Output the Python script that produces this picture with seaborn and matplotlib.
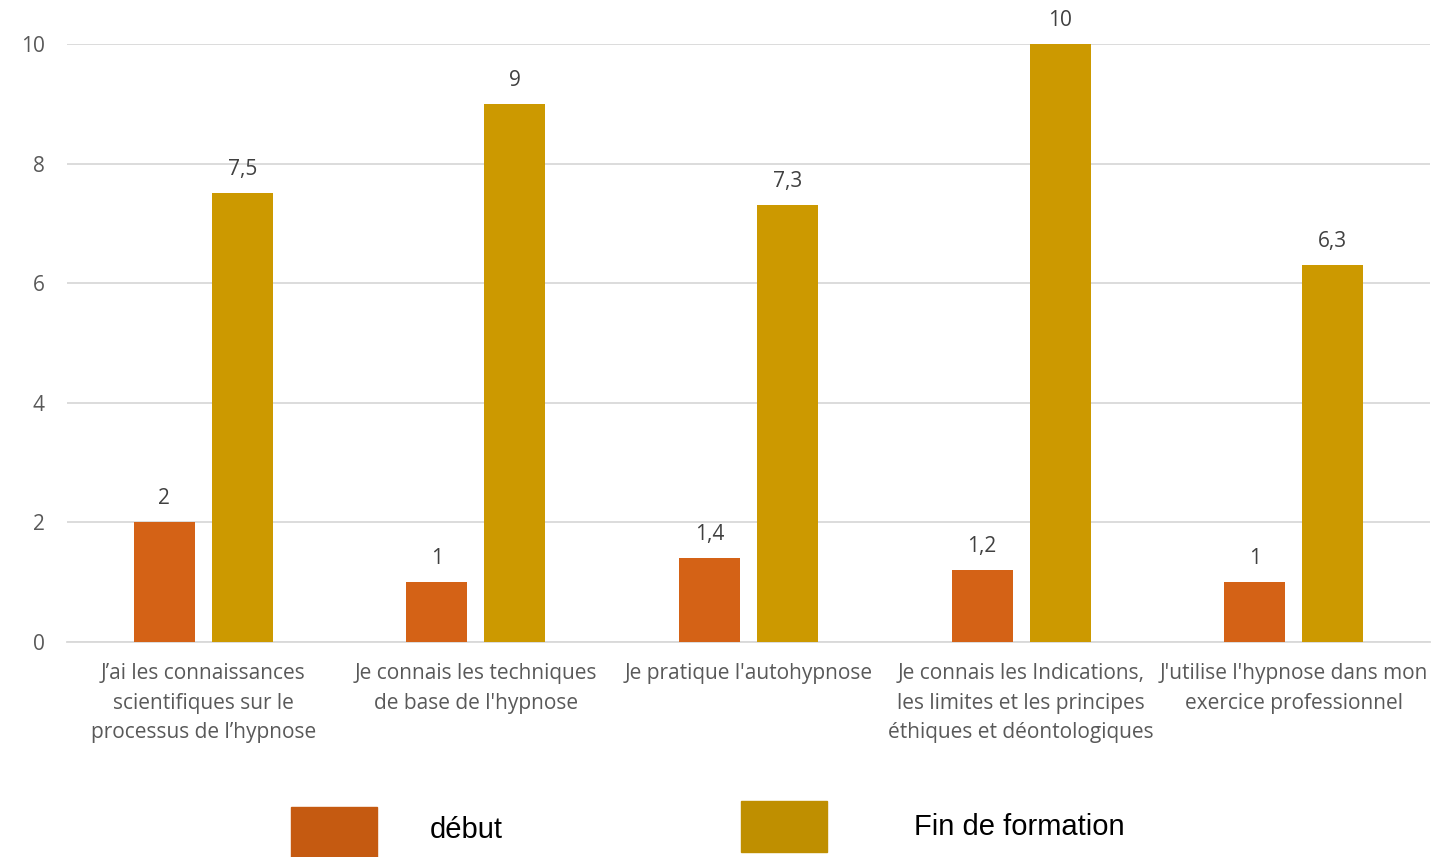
import pandas as pd
import matplotlib.pyplot as plt
import matplotlib.patches as mpatches
import seaborn as sns

categories = [
    "J’ai les connaissances\nscientifiques sur le\nprocessus de l’hypnose",
    "Je connais les techniques\nde base de l'hypnose",
    "Je pratique l'autohypnose",
    "Je connais les Indications,\nles limites et les principes\néthiques et déontologiques",
    "J'utilise l'hypnose dans mon\nexercice professionnel",
]
debut = [2, 1, 1.4, 1.2, 1]
fin_formation = [7.5, 9, 7.3, 10, 6.3]
series_names = ["début", "Fin de formation"]

df = pd.DataFrame({
    "categorie": categories * 2,
    "serie": [series_names[0]] * 5 + [series_names[1]] * 5,
    "valeur": debut + fin_formation,
})

sns.set_style("white")
plt.rcParams['font.family'] = ['Open Sans', 'DejaVu Sans']

fig = plt.figure(figsize=(14.43, 8.57), dpi=100)
ax = fig.add_axes([67 / 1443, 1 - 642 / 857, (1430 - 67) / 1443, (642 - 44) / 857])

bar_colors = {"début": "#D46216", "Fin de formation": "#CC9900"}
sns.barplot(data=df, x="categorie", y="valeur", hue="serie", palette=bar_colors,
            width=0.572, gap=0.217, ax=ax, legend=False, errorbar=None,
            saturation=1, linewidth=0, zorder=3)

ax.set_ylim(0, 10)
ax.set_yticks([0, 2, 4, 6, 8, 10])
ax.set_xlim(-0.5, 4.5)
ax.grid(axis="y", color="#D9D9D9", linewidth=1.3, zorder=0)
ax.set_axisbelow(True)
for s in ["top", "right", "left"]:
    ax.spines[s].set_visible(False)
ax.spines["bottom"].set_color("#D9D9D9")
ax.spines["bottom"].set_linewidth(1.3)
ax.tick_params(axis="both", length=0, labelsize=15, colors="#595959")
ax.tick_params(axis="y", pad=16)
ax.tick_params(axis="x", pad=15)
for lbl in ax.get_xticklabels():
    lbl.set_linespacing(1.55)
    lbl.set_verticalalignment("top")
ax.set_xlabel("")
ax.set_ylabel("")

# etiquettes de valeurs
for cont in ax.containers:
    for rect in cont:
        h = rect.get_height()
        txt = f"{h:g}".replace(".", ",")
        ax.annotate(txt, (rect.get_x() + rect.get_width() / 2, h),
                    xytext=(0, 17), textcoords="offset points",
                    ha="center", va="center", fontsize=15, color="#404040",
                    annotation_clip=False)

# legende (image separee dans l'original)
fig.patches.append(mpatches.Rectangle((291 / 1443, 1 - 857 / 857), 86 / 1443, 50 / 857,
                                      transform=fig.transFigure, color="#C55A11"))
fig.patches.append(mpatches.Rectangle((741 / 1443, 1 - 852 / 857), 86 / 1443, 51 / 857,
                                      transform=fig.transFigure, color="#BF8F00"))
fig.text(430 / 1443, 1 - 830 / 857, series_names[0], fontsize=21, va="center",
         family=["Liberation Sans", "DejaVu Sans"], color="black")
fig.text(914 / 1443, 1 - 827 / 857, series_names[1], fontsize=21, va="center",
         family=["Liberation Sans", "DejaVu Sans"], color="black")

fig.savefig("out.png", dpi=100)
